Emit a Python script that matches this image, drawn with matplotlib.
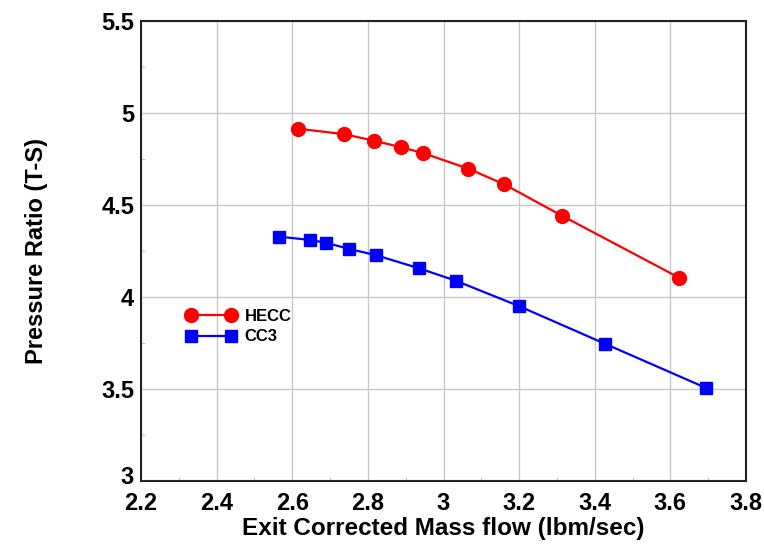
import matplotlib
matplotlib.use("Agg")
import matplotlib.pyplot as plt
import matplotlib.transforms as mtransforms
from matplotlib.ticker import MultipleLocator

hecc_x = [2.614, 2.737, 2.817, 2.888, 2.945, 3.066, 3.161, 3.313, 3.623]
hecc_y = [4.915, 4.885, 4.849, 4.814, 4.783, 4.697, 4.612, 4.442, 4.105]
cc3_x = [2.565, 2.647, 2.689, 2.751, 2.822, 2.935, 3.032, 3.199, 3.428, 3.693]
cc3_y = [4.328, 4.310, 4.295, 4.261, 4.227, 4.156, 4.089, 3.951, 3.745, 3.507]

xticks = [2.2, 2.4, 2.6, 2.8, 3.0, 3.2, 3.4, 3.6, 3.8]
xticklabels = ["2.2", "2.4", "2.6", "2.8", "3", "3.2", "3.4", "3.6", "3.8"]
yticks = [3.0, 3.5, 4.0, 4.5, 5.0, 5.5]
yticklabels = ["3", "3.5", "4", "4.5", "5", "5.5"]

plt.rcParams['font.family'] = ['Liberation Sans', 'DejaVu Sans']
plt.rcParams['font.weight'] = 'bold'

fig = plt.figure(figsize=(7.64, 5.45), dpi=100)
ax = fig.add_axes([141/764, 1 - 481/545, 605/764, 460/545])

ax.plot(hecc_x, hecc_y, color='#ff0000', marker='o', markersize=10, linewidth=1.6,
        label='HECC', zorder=3)
ax.plot(cc3_x, cc3_y, color='#0000ff', marker='s', markersize=8.5, linewidth=1.6,
        label='CC3', zorder=3)

ax.set_xlim(2.2, 3.8)
ax.set_ylim(3.0, 5.5)
ax.set_xticks(xticks)
ax.set_xticklabels(xticklabels)
ax.set_yticks(yticks)
ax.set_yticklabels(yticklabels)
ax.xaxis.set_minor_locator(MultipleLocator(0.1))
ax.yaxis.set_minor_locator(MultipleLocator(0.25))
ax.grid(True, which='major', color='#c8c8c8', linewidth=1.0, zorder=0)
ax.tick_params(which='major', direction='in', length=0, labelsize=17)
ax.tick_params(axis='x', which='major', pad=8)
ax.tick_params(axis='y', which='major', pad=5)
ax.tick_params(which='minor', direction='in', length=3, color='#c8c8c8', width=0.8)
for lab in ax.get_xticklabels() + ax.get_yticklabels():
    lab.set_fontweight('bold')
# lift the bottom y tick label slightly so it clears the first x tick label
lbl0 = ax.get_yticklabels()[0]
lbl0.set_transform(lbl0.get_transform() +
                   mtransforms.ScaledTranslation(0, 4/72, fig.dpi_scale_trans))
for s in ax.spines.values():
    s.set_linewidth(1.5)
    s.set_color('#222222')

ax.set_xlabel('Exit Corrected Mass flow (lbm/sec)', fontsize=17.5, fontweight='bold', labelpad=1)
ax.set_ylabel('Pressure Ratio (T-S)', fontsize=17, fontweight='bold', labelpad=38)

leg = ax.legend(loc='center left', bbox_to_anchor=(0.075, 0.336), frameon=False,
                fontsize=12, numpoints=2, handlelength=3.0, handletextpad=0.5,
                labelspacing=0.35, borderaxespad=0, borderpad=0)
for t in leg.get_texts():
    t.set_fontweight('bold')

fig.savefig('out.png', dpi=100)
